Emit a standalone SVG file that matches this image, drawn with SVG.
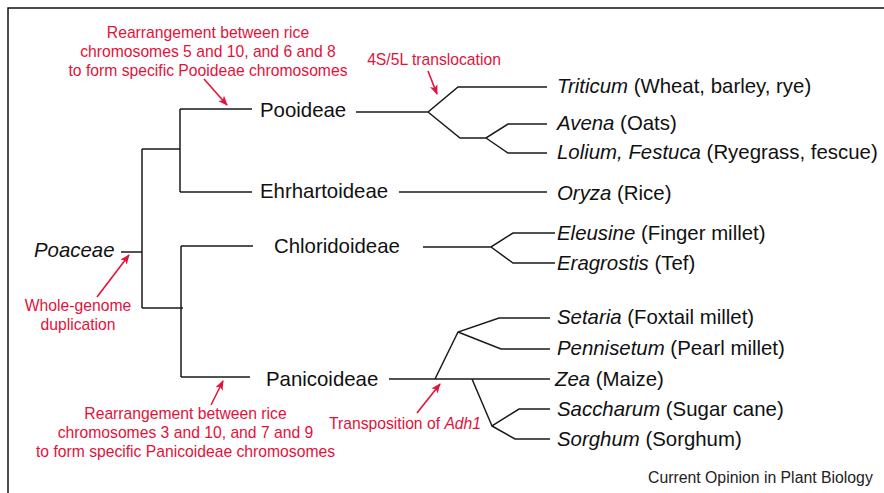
<svg xmlns="http://www.w3.org/2000/svg" width="884" height="493" viewBox="0 0 884 493">
<style>
.ln{stroke:#1a1a1a;stroke-width:1.5;fill:none}
.lbl{font-family:"Liberation Sans",Arial,sans-serif;font-size:20.4px;fill:#111}
.red{font-family:"Liberation Sans",Arial,sans-serif;font-size:15.7px;fill:#e3123a}
.arr{stroke:#e3123a;stroke-width:1.6;fill:none;marker-end:url(#ah)}
.it{font-style:italic}
</style>
<defs>
<marker id="ah" viewBox="0 0 10 8" refX="9" refY="4" markerWidth="10" markerHeight="8" markerUnits="userSpaceOnUse" orient="auto">
<path d="M0,0 L10,4 L0,8 L2.5,4 Z" fill="#e3123a"/>
</marker>
</defs>
<rect width="884" height="493" fill="#fff"/>
<path d="M8,493 V8 H884" stroke="#111" stroke-width="1.5" fill="none"/>

<g id="connectors">
<path class="ln" d="M121,252 H142 M142,149 V308 M142,149 H180 M180,109 V192 M180,109 H252 M180,192 H252 M142,308 H183 M181,246 V377 M181,246 H253 M181,377 H250"/>
<path class="ln" d="M356,112 H428 L458,87 H547 M428,112 L460,138 H486 L508,124 H547 M486,138 L508,153 H547"/>
<path class="ln" d="M399,192 H547"/>
<path class="ln" d="M423,247 H491 L513,233 H555 M491,247 L513,263 H555"/>
<path class="ln" d="M389,379 H550 M435,379 L458,332 L499,318 H550 M458,332 L501,349 H550 M472,379 L492,426 L519,409 H550 M492,426 L515,439 H550"/>
</g>

<g id="poaceae"><text class="lbl it" x="34" y="257">Poaceae</text></g>
<g id="pooideae"><text class="lbl" x="260" y="117">Pooideae</text></g>
<g id="ehrhartoideae"><text class="lbl" x="260" y="198">Ehrhartoideae</text></g>
<g id="chloridoideae"><text class="lbl" x="274" y="253">Chloridoideae</text></g>
<g id="panicoideae"><text class="lbl" x="266" y="386">Panicoideae</text></g>

<g id="triticum"><text class="lbl" x="557" y="93"><tspan class="it">Triticum</tspan> (Wheat, barley, rye)</text></g>
<g id="avena"><text class="lbl" x="557" y="130"><tspan class="it">Avena</tspan> (Oats)</text></g>
<g id="lolium"><text class="lbl" x="557" y="159"><tspan class="it">Lolium, Festuca</tspan> (Ryegrass, fescue)</text></g>
<g id="oryza"><text class="lbl" x="557" y="200"><tspan class="it">Oryza</tspan> (Rice)</text></g>
<g id="eleusine"><text class="lbl" x="557" y="240"><tspan class="it">Eleusine</tspan> (Finger millet)</text></g>
<g id="eragrostis"><text class="lbl" x="557" y="270"><tspan class="it">Eragrostis</tspan> (Tef)</text></g>
<g id="setaria"><text class="lbl" x="557" y="324"><tspan class="it">Setaria</tspan> (Foxtail millet)</text></g>
<g id="pennisetum"><text class="lbl" x="557" y="355"><tspan class="it">Pennisetum</tspan> (Pearl millet)</text></g>
<g id="zea"><text class="lbl" x="555" y="386"><tspan class="it">Zea</tspan> (Maize)</text></g>
<g id="saccharum"><text class="lbl" x="557" y="416"><tspan class="it">Saccharum</tspan> (Sugar cane)</text></g>
<g id="sorghum"><text class="lbl" x="557" y="446"><tspan class="it">Sorghum</tspan> (Sorghum)</text></g>

<g id="note-pooideae">
<text class="red" text-anchor="middle" x="208" y="38">Rearrangement between rice</text>
<text class="red" text-anchor="middle" x="208" y="57">chromosomes 5 and 10, and 6 and 8</text>
<text class="red" text-anchor="middle" x="208" y="76">to form specific Pooideae chromosomes</text>
<path class="arr" d="M204,79 L227,105"/>
</g>
<g id="note-translocation">
<text class="red" text-anchor="middle" x="434" y="65">4S/5L translocation</text>
<path class="arr" d="M428,71 L437,94"/>
</g>
<g id="note-wgd">
<text class="red" text-anchor="middle" x="78" y="311">Whole-genome</text>
<text class="red" text-anchor="middle" x="78" y="330">duplication</text>
<path class="arr" d="M97,297 L129,255"/>
</g>
<g id="note-panicoideae">
<text class="red" text-anchor="middle" x="185.5" y="419">Rearrangement between rice</text>
<text class="red" text-anchor="middle" x="185.5" y="438">chromosomes 3 and 10, and 7 and 9</text>
<text class="red" text-anchor="middle" x="185.5" y="457">to form specific Panicoideae chromosomes</text>
<path class="arr" d="M211,405 L223,381"/>
</g>
<g id="note-adh1">
<text class="red" x="329" y="429">Transposition of <tspan class="it">Adh1</tspan></text>
<path class="arr" d="M417,413 L440,384"/>
</g>
<g id="credit"><text x="648" y="483" style="font-family:'Liberation Sans',Arial,sans-serif;font-size:15.8px;fill:#222">Current Opinion in Plant Biology</text></g>
</svg>
